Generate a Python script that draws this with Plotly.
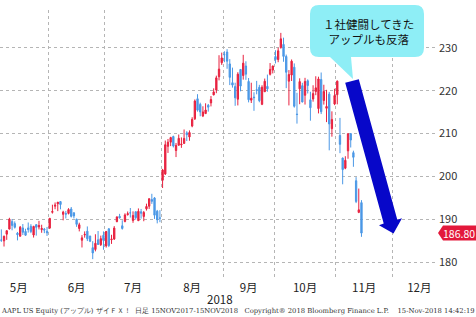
import pandas as pd
import plotly.graph_objects as go

# ---------------- data (AAPL daily, 2018-05-07 .. 2018-11-14) ----------------
opens = [185.18,184.99,186.55,187.74,189.49,189.01,186.78,186.07,188.00,187.19,188.00,188.38,186.35,188.77,188.23,187.60,187.72,187.22,
         187.99,191.64,193.07,193.63,194.14,191.17,191.35,191.39,192.42,191.55,190.03,187.88,185.14,186.35,187.25,186.12,183.40,182.99,185.23,184.10,186.29,
         183.82,187.79,185.26,185.42,189.50,190.71,188.50,189.53,191.08,191.52,189.75,191.78,189.69,191.78,190.68,192.45,193.06,194.61,194.99,191.90,190.30,
         199.13,200.58,207.03,208.00,209.32,206.05,207.28,207.36,207.70,210.16,209.22,211.75,213.44,218.10,216.80,214.10,214.65,216.60,217.15,219.01,220.15,223.25,226.51,
         228.41,228.99,226.23,221.85,220.95,218.01,224.94,223.52,225.75,222.15,217.79,218.50,220.24,220.78,216.82,219.75,221.00,223.82,224.79,
         227.95,227.25,230.05,230.78,227.96,222.21,223.64,225.46,214.52,220.42,221.16,218.93,222.30,217.86,218.06,219.79,215.83,222.60,217.71,215.90,219.19,211.15,216.88,
         219.05,209.55,204.30,201.92,205.97,209.98,205.55,199.00,191.63,193.90]
highs = [187.67,186.22,187.40,190.37,190.06,189.53,187.07,188.46,188.91,187.81,189.27,188.88,188.50,188.84,189.65,188.75,188.00,188.23,
         190.26,193.42,193.94,194.08,194.20,192.00,191.97,192.61,192.88,191.57,190.16,189.22,186.33,187.20,188.35,186.15,184.92,186.53,187.28,186.21,187.19,
         187.30,187.95,186.41,188.43,190.68,191.28,189.78,191.41,191.84,192.65,191.87,191.80,192.55,192.43,191.96,193.66,194.85,195.96,195.19,192.20,192.14,
         201.76,208.38,208.74,209.25,209.50,207.81,209.78,209.10,210.95,210.56,210.74,213.81,217.95,219.18,217.19,216.36,217.05,216.90,218.74,220.54,223.49,228.26,228.87,
         229.18,229.67,227.35,225.37,221.85,224.30,225.00,228.35,226.84,222.95,221.85,219.62,222.28,221.36,221.26,222.82,223.75,226.44,225.84,
         229.42,230.00,233.47,232.35,228.41,224.80,227.27,226.35,219.50,222.88,221.83,222.99,222.64,219.74,221.26,223.36,223.25,224.23,221.38,220.19,219.69,215.18,220.45,
         222.36,213.65,204.39,204.72,210.06,210.12,206.01,199.85,197.18,194.48]
lows = [184.75,183.67,185.22,187.65,187.45,187.86,185.10,186.00,186.36,186.13,186.91,186.78,185.76,186.21,187.65,186.87,186.78,186.14,
        187.75,191.35,192.36,191.92,192.34,189.77,190.21,191.15,190.44,190.22,188.26,187.20,183.45,185.73,184.94,184.70,180.73,182.54,184.03,183.80,182.91,
        183.42,183.54,184.28,185.20,189.30,190.18,187.61,189.31,190.90,190.42,189.20,189.93,189.69,190.17,189.56,192.05,192.43,193.61,190.10,189.07,189.34,
        197.31,200.35,205.48,207.07,206.76,204.52,207.20,206.67,207.70,208.26,208.33,211.47,213.16,215.11,214.03,213.84,214.60,215.11,216.33,218.92,219.41,222.40,226.00,
        226.63,225.10,221.30,220.71,216.47,216.56,219.84,222.57,222.52,217.27,217.12,215.30,219.15,217.29,216.63,219.70,219.76,223.54,224.02,
        226.35,226.63,229.78,226.73,220.58,216.56,222.25,216.05,212.32,216.84,217.27,216.76,219.34,213.00,217.43,218.94,214.70,214.54,216.75,212.67,206.09,209.27,216.62,
        216.81,205.43,198.17,201.69,204.13,206.75,202.25,193.79,191.45,185.93]
closes = [185.16,186.05,187.36,190.04,188.59,188.15,186.44,188.18,186.99,186.31,187.63,187.16,188.36,188.15,188.58,187.90,187.50,186.87,
          190.24,191.83,193.31,193.98,193.46,191.70,191.23,192.28,190.70,190.80,188.84,188.74,185.69,186.50,185.46,184.92,182.17,184.43,184.16,185.50,185.11,
          187.18,183.92,185.40,187.97,190.58,190.35,187.88,191.03,191.33,191.50,190.91,190.40,191.88,191.44,191.61,193.00,194.82,194.21,190.98,189.91,190.29,
          201.50,207.39,207.99,209.07,207.11,207.25,208.88,207.53,208.87,209.75,210.24,213.32,217.58,215.46,215.04,215.05,215.49,216.16,217.94,219.70,222.98,225.03,227.63,
          228.36,226.87,223.10,221.30,218.33,223.85,221.07,226.41,223.84,217.88,218.24,218.37,220.03,217.66,220.79,222.19,220.42,224.95,225.74,
          227.26,229.28,232.07,227.99,224.29,223.77,226.87,216.36,214.45,222.11,217.36,222.15,221.19,216.02,219.31,220.65,222.73,215.09,219.80,216.30,212.24,213.30,218.86,
          222.22,207.48,201.59,203.77,209.95,208.49,204.47,194.17,192.23,186.80]

first_day = "2018-05-07"
market_holidays = ["2018-05-28", "2018-07-04", "2018-09-03", "2018-11-22", "2018-12-25", "2019-01-01"]
month_starts = ["2018-05-01", "2018-06-01", "2018-07-01", "2018-08-01", "2018-09-01",
                "2018-10-01", "2018-11-01", "2018-12-01", "2019-01-01"]
month_labels = ["5月", "6月", "7月", "8月", "9月", "10月", "11月", "12月"]
y_ticks = [180, 190, 200, 210, 220, 230]
last_price = 186.80

# ---------------- trading-day axis ----------------
cal = pd.bdate_range("2018-04-02", "2019-01-31", freq="C", holidays=market_holidays)
origin = cal.get_loc(pd.Timestamp(first_day))
xi = list(range(len(opens)))

def tidx(d):
    return int(cal.searchsorted(pd.Timestamp(d))) - origin - 0.5

bounds = [tidx(d) for d in month_starts]
label_pos = [(bounds[i] + bounds[i + 1]) / 2 for i in range(len(month_labels))]

RED = "#e8213f"
BLUE = "#4b98e6"

fig = go.Figure()
fig.add_trace(go.Candlestick(
    x=xi, open=opens, high=highs, low=lows, close=closes,
    increasing=dict(line=dict(color=RED, width=1), fillcolor=RED),
    decreasing=dict(line=dict(color=BLUE, width=1), fillcolor=BLUE),
    whiskerwidth=0, showlegend=False, hoverinfo="skip",
))

W, H = 476, 317
ML, MR, MT, MB = 0, 38, 10, 38
PW, PH = W - ML - MR, H - MT - MB
YMIN, YMAX = 176.1, 238.8
PX_PER_DAY = 344 / (bounds[-2] - bounds[1])
X_MAX = PW / PX_PER_DAY - 0.5

def px(x):
    return (x - ML) / PW

def py(y):
    return 1 - (y - MT) / PH

def path(points):
    return "M " + " L ".join(f"{px(x):.5f},{py(y):.5f}" for x, y in points) + " Z"

shapes = []
# speech bubble (rounded rectangle + tail)
x0, x1, y0, y1, r = 310, 424, 5, 57, 9
bub = (f"M {px(x0+r):.5f},{py(y0):.5f} L {px(x1-r):.5f},{py(y0):.5f} "
       f"Q {px(x1):.5f},{py(y0):.5f} {px(x1):.5f},{py(y0+r):.5f} "
       f"L {px(x1):.5f},{py(y1-r):.5f} Q {px(x1):.5f},{py(y1):.5f} {px(x1-r):.5f},{py(y1):.5f} "
       f"L {px(351):.5f},{py(y1):.5f} L {px(353):.5f},{py(79):.5f} L {px(330):.5f},{py(y1):.5f} "
       f"L {px(x0+r):.5f},{py(y1):.5f} Q {px(x0):.5f},{py(y1):.5f} {px(x0):.5f},{py(y1-r):.5f} "
       f"L {px(x0):.5f},{py(y0+r):.5f} Q {px(x0):.5f},{py(y0):.5f} {px(x0+r):.5f},{py(y0):.5f} Z")
shapes.append(dict(type="path", xref="paper", yref="paper", path=bub,
                   fillcolor="#8eeef6", line=dict(width=0), layer="above"))
# big blue arrow
arrow = [(345.2, 82.8), (358.8, 79.2), (397.3, 219.8), (402.0, 218.2),
         (393.5, 233.5), (379.0, 225.2), (383.7, 223.4)]
shapes.append(dict(type="path", xref="paper", yref="paper", path=path(arrow),
                   fillcolor="#0707c9", line=dict(width=0), layer="above"))
# last-price tag
ty = MT + (YMAX - last_price) / (YMAX - YMIN) * PH
tag = [(438, ty), (443, ty - 7.5), (476, ty - 7.5), (476, ty + 7.5), (443, ty + 7.5)]
shapes.append(dict(type="path", xref="paper", yref="paper", path=path(tag),
                   fillcolor="#e3183b", line=dict(width=0), layer="above"))

FONT = "Noto Sans CJK JP"
annotations = [
    dict(xref="paper", yref="paper", x=px(368), y=py(31), text="１社健闘してきた<br>アップルも反落",
         showarrow=False, font=dict(family=FONT, size=11.5, color="#111"), xanchor="center", yanchor="middle"),
    dict(xref="paper", yref="paper", x=px(459), y=py(ty), text="186.80",
         showarrow=False, font=dict(family=FONT, size=10.5, color="white"), xanchor="center", yanchor="middle"),
    dict(xref="paper", yref="paper", x=px(220), y=py(299), text="2018",
         showarrow=False, font=dict(family=FONT, size=11.5, color="#222"), xanchor="center", yanchor="middle"),
    dict(xref="paper", yref="paper", x=px(238), y=py(311),
         text="AAPL US Equity (アップル) ザイＦＸ！  日足 15NOV2017-15NOV2018   Copyright® 2018 Bloomberg Finance L.P.    15-Nov-2018 14:42:19",
         showarrow=False, font=dict(family="DejaVu Serif", size=6.8, color="#333"), xanchor="center", yanchor="middle"),
]

fig.update_layout(
    width=W, height=H,
    margin=dict(l=ML, r=MR, t=MT, b=MB),
    paper_bgcolor="white", plot_bgcolor="white",
    shapes=shapes, annotations=annotations,
    xaxis=dict(
        range=[-0.5, X_MAX],
        tickmode="array", tickvals=label_pos, ticktext=month_labels,
        showgrid=False, zeroline=False, showline=False, ticks="",
        tickfont=dict(family=FONT, size=11.5, color="#222"),
        rangeslider=dict(visible=False),
        minor=dict(tickmode="array", tickvals=bounds, showgrid=True,
                   gridcolor="#b5b5b5", griddash="dot", gridwidth=1, ticks=""),
    ),
    yaxis=dict(
        side="right", range=[YMIN, YMAX],
        tickmode="array", tickvals=y_ticks, ticktext=[str(v) for v in y_ticks],
        showgrid=True, gridcolor="#b5b5b5", griddash="dot", gridwidth=1,
        zeroline=False, showline=False, ticks="",
        tickfont=dict(family=FONT, size=11, color="#333"),
    ),
)

fig.write_html("out.html")
